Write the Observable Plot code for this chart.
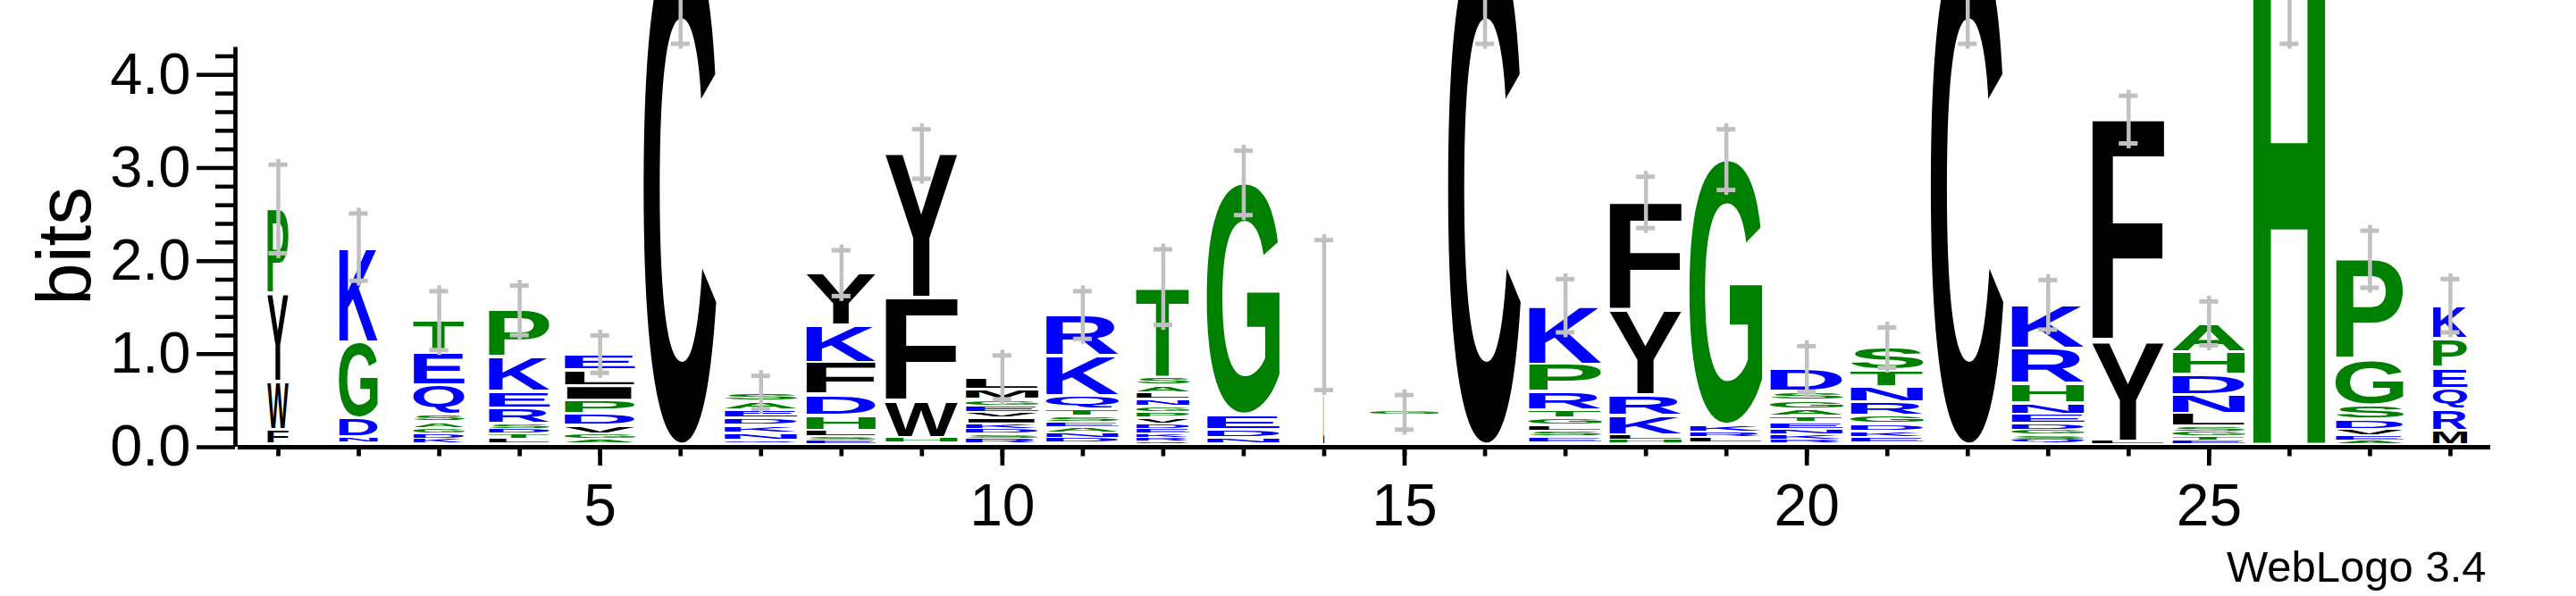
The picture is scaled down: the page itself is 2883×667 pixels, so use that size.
<!DOCTYPE html>
<html>
<head>
<meta charset="utf-8">
<script src="https://cdn.jsdelivr.net/npm/d3@7"></script>
<script src="https://cdn.jsdelivr.net/npm/@observablehq/plot@0.6"></script>
<style>
  html, body { margin: 0; padding: 0; background: #fff; overflow: hidden; }
</style>
</head>
<body>
<div id="chart"></div>
<script>
// ---------------- data ----------------
const positions = [1,2,3,4,5,6,7,8,9,10,11,12,13,14,15,16,17,18,19,20,21,22,23,24,25,26,27,28];

// letters of each stack, listed top -> bottom ("-" = gap, not drawn)
const stackLetters = [
  "PYWFL", "KGDNE", "TEQSAGDKN", "PKERSDTLV", "ELIPDVGAK",
  "C", "SAEDKNQ", "YKFDHLSEN", "YFWHL", "LMGEVIKDSRN",
  "RKQTSEANDG", "TSALNGPVDEKRQM", "GEDNK", "GL", "G-",
  "C", "KPRTGLSED", "FYRKLHS", "GKRLN", "DSGATENKRQ",
  "STNRGDKEA", "C", "KRHNEDGSQT", "FYLW", "AHDNLSGTEK",
  "H", "PGSDVEAN", "KPEQRM"
];

// bits of each letter, same order as stackLetters
const stackBits = [
  [0.92, 0.94, 0.51, 0.16, 0.03],
  [1.02, 0.82, 0.20, 0.06, 0.05],
  [0.34, 0.35, 0.32, 0.08, 0.07, 0.06, 0.05, 0.05, 0.04],
  [0.50, 0.37, 0.18, 0.17, 0.06, 0.05, 0.05, 0.05, 0.04],
  [0.17, 0.17, 0.16, 0.14, 0.13, 0.09, 0.06, 0.04, 0.04],
  [5.50],
  [0.10, 0.09, 0.09, 0.08, 0.08, 0.08, 0.07],
  [0.56, 0.40, 0.35, 0.22, 0.16, 0.07, 0.04, 0.04, 0.03],
  [1.54, 1.12, 0.39, 0.05, 0.05],
  [0.13, 0.11, 0.07, 0.07, 0.06, 0.06, 0.06, 0.05, 0.05, 0.05, 0.04],
  [0.44, 0.43, 0.14, 0.08, 0.06, 0.06, 0.06, 0.05, 0.05, 0.05],
  [0.97, 0.09, 0.08, 0.07, 0.07, 0.07, 0.06, 0.06, 0.06, 0.05, 0.04, 0.04, 0.03, 0.03],
  [2.49, 0.16, 0.09, 0.06, 0.04],
  [0.86, 0.56],
  [0.03, 0.345],
  [5.50],
  [0.63, 0.30, 0.19, 0.09, 0.08, 0.06, 0.06, 0.06, 0.05],
  [1.17, 0.90, 0.22, 0.21, 0.05, 0.04, 0.04],
  [2.85, 0.08, 0.06, 0.05, 0.05],
  [0.24, 0.10, 0.09, 0.08, 0.07, 0.07, 0.06, 0.05, 0.04, 0.04],
  [0.24, 0.18, 0.17, 0.14, 0.09, 0.08, 0.07, 0.05, 0.05],
  [5.50],
  [0.47, 0.38, 0.21, 0.12, 0.10, 0.07, 0.05, 0.05, 0.04, 0.04],
  [2.40, 1.06, 0.03, 0.03],
  [0.31, 0.24, 0.22, 0.20, 0.14, 0.06, 0.05, 0.04, 0.04, 0.03],
  [5.50],
  [1.08, 0.49, 0.15, 0.11, 0.07, 0.05, 0.04, 0.03],
  [0.36, 0.31, 0.22, 0.22, 0.23, 0.18]
];

// fraction of full column width used by each stack (non-gap fraction)
const widthFraction = [
  0.29, 0.53, 0.70, 0.84, 0.97, 1, 1, 0.96, 1, 1,
  1, 0.73, 1, 0.015, 0.95, 1, 1, 1, 1, 1,
  1, 1, 1, 1, 1, 1, 0.93, 0.47
];

// half-length of each error bar (bits)
const errorBits = [
  0.50, 0.385, 0.34, 0.29, 0.225, 1.19, 0.20, 0.27, 0.29, 0.26,
  0.28, 0.43, 0.37, 0.83, 0.21, 1.19, 0.31, 0.30, 0.35, 0.27,
  0.24, 1.19, 0.29, 0.28, 0.26, 1.19, 0.33, 0.31
];

const yMajorTicks = [0, 1, 2, 3, 4];
const yMinorTicks = [0.2, 0.4, 0.6, 0.8, 1.2, 1.4, 1.6, 1.8, 2.2, 2.4, 2.6, 2.8, 3.2, 3.4, 3.6, 3.8, 4.2];
const xTickPositions = positions;
const xLabelTicks = [5, 10, 15, 20, 25];

// WebLogo "hydrophobicity" colour scheme
const hydrophilic = "RKDENQ";
const neutral = "SGHTAP";
const hydrophobic = "YVMCLFIW";
const colorHydrophilic = "#0000ff";
const colorNeutral = "#008000";
const colorHydrophobic = "#000000";
const errorColor = "#c0c0c0";

// ---------------- build tables ----------------
function letterColor(ch) {
  if (hydrophilic.includes(ch)) return colorHydrophilic;
  if (neutral.includes(ch)) return colorNeutral;
  if (hydrophobic.includes(ch)) return colorHydrophobic;
  return "none";
}

const letterRows = [];
const errorRows = [];
positions.forEach((pos, i) => {
  const letters = stackLetters[i].split("");
  const bits = stackBits[i];
  let base = 0;
  for (let k = letters.length - 1; k >= 0; --k) {
    letterRows.push({pos, letter: letters[k], y1: base, y2: base + bits[k], wf: widthFraction[i], color: letterColor(letters[k])});
    base += bits[k];
  }
  const e = errorBits[i];
  errorRows.push({pos, top: base, hi: base + e, lo: base - e, capL: pos - 0.117, capR: pos + 0.117});
});

// ---------------- glyph metrics ----------------
const FONT_PX = 100;
const GLYPH_FONT = "Liberation Sans";
const measureCtx = document.createElement("canvas").getContext("2d");
measureCtx.font = `bold ${FONT_PX}px "${GLYPH_FONT}"`;
const metricsCache = {};
function inkBox(ch) {
  if (!metricsCache[ch]) {
    const m = measureCtx.measureText(ch);
    metricsCache[ch] = {
      left: m.actualBoundingBoxLeft,
      right: m.actualBoundingBoxRight,
      ascent: m.actualBoundingBoxAscent,
      descent: m.actualBoundingBoxDescent
    };
  }
  return metricsCache[ch];
}

// custom render mark: each letter stretched into its box via Plot's scales
function logoLetters(index, scales) {
  const x = scales.x, y = scales.y;
  const g = d3.create("svg:g").attr("class", "logo-letters");
  for (const r of letterRows) {
    if (r.color === "none") continue;
    const cx = x(r.pos);
    const half = x(r.pos + 0.455 * r.wf) - cx;
    const yb = y(r.y1), yt = y(r.y2);
    const h = yb - yt;
    const inset = Math.min(1.7, h * 0.2);
    const bottom = yb - inset - (r.y1 === 0 ? 2.8 : 0);
    const top = yt + inset;
    if (bottom - top <= 0.05 || half <= 0) continue;
    const m = inkBox(r.letter);
    const inkW = m.left + m.right, inkH = m.ascent + m.descent;
    const sx = (2 * half) / inkW, sy = (bottom - top) / inkH;
    g.append("text")
      .attr("x", 0).attr("y", 0)
      .attr("font-family", GLYPH_FONT)
      .attr("font-weight", "bold")
      .attr("font-size", FONT_PX)
      .attr("text-anchor", "start")
      .attr("fill", r.color)
      .attr("transform", `translate(${cx - half + m.left * sx},${bottom - m.descent * sy}) scale(${sx},${sy})`)
      .text(r.letter);
  }
  return g.node();
}

// ---------------- plot ----------------
const chart = Plot.plot({
  width: 2883,
  height: 667,
  marginLeft: 266,
  marginRight: 96,
  marginTop: 50,
  marginBottom: 167,
  x: {domain: [0.5, 28.5]},
  y: {domain: [0, 4.32]},
  style: {background: "white", fontFamily: "'Liberation Sans', Arial, sans-serif", color: "black"},
  marks: [
    logoLetters,
    Plot.ruleX(errorRows, {x: "pos", y1: "top", y2: "hi", insetBottom: 3.5, stroke: errorColor, strokeWidth: 4.5}),
    Plot.ruleX(errorRows, {x: "pos", y1: "lo", y2: "top", insetTop: 3.5, stroke: errorColor, strokeWidth: 4.5}),
    Plot.ruleY(errorRows, {y: "hi", x1: "capL", x2: "capR", dy: 2.5, stroke: errorColor, strokeWidth: 5}),
    Plot.ruleY(errorRows, {y: "lo", x1: "capL", x2: "capR", dy: -2.5, stroke: errorColor, strokeWidth: 5}),
    Plot.ruleY([0], {x1: 0.5, x2: 28.5, stroke: "black", strokeWidth: 5}),
    Plot.ruleX([0.5], {y1: 0, y2: 4.32, dx: -3, insetBottom: -2.5, stroke: "black", strokeWidth: 4.7}),
    Plot.axisY(yMajorTicks, {anchor: "left", label: null, tickSize: 43, tickPadding: 7, dx: -3,
      strokeWidth: 4.5, tickFormat: d => d.toFixed(1), fontSize: 65, fill: "black", stroke: "black"}),
    Plot.axisY(yMinorTicks, {anchor: "left", label: null, tickSize: 22, dx: -3,
      strokeWidth: 4.5, tickFormat: () => "", stroke: "black"}),
    Plot.axisX(xTickPositions, {anchor: "bottom", label: null, tickSize: 10.5, strokeWidth: 4.7,
      tickFormat: () => "", stroke: "black"}),
    Plot.axisX(xLabelTicks, {anchor: "bottom", label: null, tickSize: 21, tickPadding: 20, strokeWidth: 4.7,
      fontSize: 66, fill: "black", stroke: "black"}),
    Plot.text(["bits"], {frameAnchor: "left", rotate: -90, dx: -193, fontSize: 85,
      textAnchor: "middle", lineAnchor: "middle", fill: "black"}),
    Plot.text(["WebLogo 3.4"], {frameAnchor: "bottom-right", textAnchor: "end", lineAnchor: "bottom",
      dx: -5, dy: 150, fontSize: 49, fill: "black"})
  ]
});

document.getElementById("chart").appendChild(chart);
</script>
</body>
</html>
